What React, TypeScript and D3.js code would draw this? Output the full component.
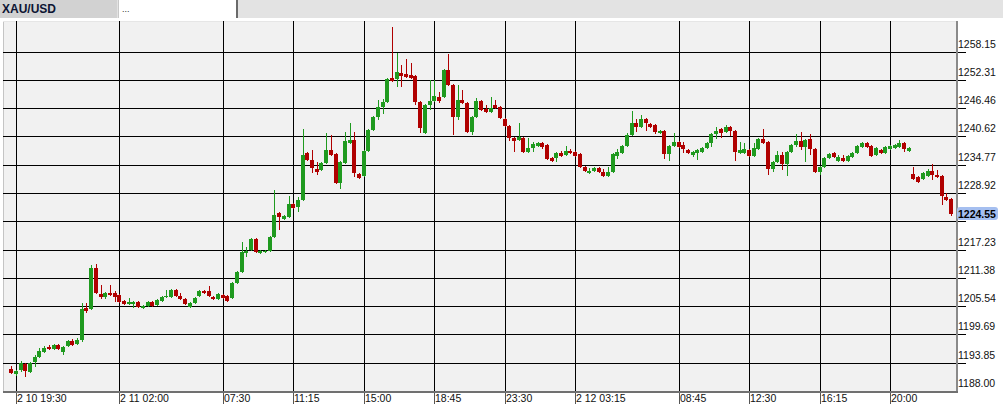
import React from 'react';
import * as d3 from 'd3';

// OHLC for each 15-minute candle (first candle is one bar before the "2 10 19:30" gridline)
const opens = [1192.54,1191.51,1192.33,1193.58,1191.92,1193.99,1195.02,1196.06,1197.09,1196.68,1197.5,1196.06,1197.3,1198.33,1197.71,1198.54,1205.16,1204.95,1213.42,1208.05,1207.43,1208.26,1208.26,1207.84,1206.6,1205.98,1205.98,1206.4,1205.16,1205.57,1206.4,1205.78,1206.6,1207.4,1207.43,1208.88,1207.64,1207.02,1205.37,1206.19,1207.64,1208.67,1208.67,1207.43,1207.02,1207.84,1207.64,1207.22,1210.32,1212.6,1216.53,1217.14,1219.42,1216.53,1216.73,1216.94,1219.83,1224.79,1223.55,1223.97,1226.65,1226.03,1227.48,1237.2,1235.75,1233.89,1233.68,1235.13,1237.81,1236.99,1231.0,1235.13,1239.26,1239.88,1232.85,1232.44,1237.61,1241.95,1244.63,1246.7,1247.74,1252.7,1252.49,1253.73,1253.52,1253.31,1253.11,1247.74,1241.33,1247.12,1247.94,1248.77,1248.77,1254.35,1251.25,1244.63,1248.15,1247.53,1241.54,1244.63,1247.94,1246.29,1245.67,1247.12,1246.7,1244.22,1242.78,1240.3,1239.88,1240.3,1237.4,1238.23,1238.64,1239.26,1238.85,1236.16,1236.16,1237.2,1236.78,1237.61,1237.4,1236.99,1234.3,1233.06,1233.47,1234.09,1233.27,1232.44,1233.27,1236.57,1237.2,1238.64,1240.92,1243.4,1242.57,1244.22,1243.19,1242.98,1241.33,1241.74,1236.99,1238.64,1239.47,1238.85,1237.81,1236.78,1237.2,1237.4,1238.23,1239.26,1241.12,1242.16,1241.54,1242.57,1241.74,1237.2,1237.2,1237.81,1236.57,1238.02,1240.09,1239.47,1233.89,1235.33,1236.78,1234.92,1237.4,1238.85,1239.67,1238.43,1240.09,1238.02,1233.27,1234.3,1236.16,1237.2,1235.54,1236.16,1235.54,1236.37,1237.2,1238.43,1239.26,1238.64,1236.78,1237.81,1237.2,1238.02,1238.23,1238.43,1239.26,1237.61,1232.85,1232.23,1231.82,1232.44,1233.47,1232.65,1232.44,1228.1,1227.69];
const highs = [1193.17,1192.33,1194.2,1193.78,1194.0,1195.44,1196.88,1197.3,1197.5,1197.8,1197.7,1197.3,1198.6,1198.7,1198.9,1206.19,1206.19,1214.04,1214.25,1209.91,1208.5,1209.91,1208.7,1208.0,1206.8,1207.2,1206.6,1206.6,1205.8,1206.6,1206.7,1207.0,1207.6,1208.88,1209.1,1209.1,1208.3,1207.2,1206.4,1207.4,1208.9,1208.9,1209.7,1207.6,1208.3,1208.0,1207.8,1210.5,1212.8,1218.8,1217.77,1219.6,1219.6,1217.2,1217.1,1220.0,1229.55,1225.0,1224.4,1228.31,1226.9,1228.1,1242.16,1237.4,1237.81,1235.33,1235.3,1241.33,1240.92,1237.2,1235.5,1241.54,1243.4,1241.54,1233.1,1237.8,1242.2,1244.8,1248.15,1248.4,1252.7,1263.24,1257.86,1255.38,1256.62,1255.8,1253.3,1248.0,1247.3,1252.28,1252.28,1249.8,1254.6,1257.66,1251.5,1251.25,1250.22,1247.7,1244.8,1248.56,1248.1,1247.1,1248.77,1248.15,1246.9,1244.4,1243.0,1240.5,1243.4,1240.5,1240.3,1239.4,1239.5,1239.5,1239.0,1236.4,1237.4,1237.6,1238.64,1238.0,1237.6,1237.2,1234.5,1234.1,1234.3,1234.3,1233.9,1234.3,1237.2,1238.0,1238.8,1241.3,1245.88,1244.22,1245.05,1244.4,1243.4,1243.2,1242.0,1242.0,1238.8,1241.33,1239.7,1239.5,1238.0,1237.6,1238.0,1238.4,1239.5,1241.3,1242.57,1242.4,1243.0,1242.8,1242.0,1239.47,1239.3,1238.0,1239.3,1240.3,1242.16,1239.7,1235.5,1237.61,1237.4,1237.6,1239.0,1241.12,1241.54,1240.1,1241.12,1238.2,1234.5,1236.4,1237.2,1237.4,1236.8,1236.8,1236.8,1237.4,1238.8,1239.5,1239.5,1238.8,1238.4,1238.0,1238.6,1238.8,1239.0,1239.88,1239.5,1238.4,1234.3,1232.4,1233.3,1233.9,1234.92,1233.7,1232.6,1228.93,1227.9];
const lows = [1191.51,1191.1,1191.9,1190.9,1191.7,1192.96,1194.8,1195.9,1196.5,1196.5,1196.4,1195.5,1197.1,1197.3,1197.5,1198.1,1204.1,1204.7,1208.0,1207.02,1207.0,1207.6,1206.4,1206.2,1205.8,1205.8,1205.16,1205.2,1205.0,1205.4,1205.4,1205.6,1206.4,1207.2,1207.2,1207.4,1206.8,1205.8,1205.2,1206.0,1207.4,1208.0,1207.4,1206.8,1206.8,1207.0,1206.4,1207.0,1210.1,1212.4,1215.7,1216.9,1216.5,1216.3,1216.5,1216.7,1219.6,1221.28,1223.3,1223.7,1225.6,1225.0,1227.2,1235.5,1233.06,1232.65,1233.5,1234.9,1236.6,1230.8,1229.76,1234.9,1239.1,1232.23,1231.8,1232.2,1237.4,1241.7,1244.0,1245.2,1247.5,1251.9,1250.84,1250.84,1252.7,1252.5,1247.12,1241.33,1241.1,1246.08,1247.7,1247.5,1248.5,1251.0,1240.92,1244.0,1247.3,1241.3,1240.92,1244.4,1245.9,1245.5,1245.4,1246.3,1244.2,1242.6,1239.67,1237.4,1239.7,1237.2,1237.2,1237.4,1238.4,1238.0,1235.7,1235.3,1235.33,1236.4,1236.6,1237.0,1236.4,1234.1,1233.3,1232.9,1233.3,1233.0,1232.2,1232.2,1233.0,1236.0,1237.0,1238.4,1240.7,1241.5,1242.4,1241.7,1242.4,1241.1,1241.1,1235.95,1235.54,1238.4,1238.2,1237.2,1237.0,1236.4,1235.75,1237.2,1238.0,1238.4,1240.1,1240.3,1241.3,1240.7,1235.54,1237.0,1237.0,1236.4,1236.4,1237.8,1239.0,1232.65,1233.3,1235.1,1233.68,1232.44,1237.2,1238.4,1237.81,1235.33,1236.78,1233.0,1232.65,1234.1,1236.0,1236.2,1235.3,1235.3,1235.33,1236.2,1237.0,1238.2,1238.2,1236.4,1236.6,1237.0,1237.0,1237.8,1238.0,1238.2,1237.4,1237.4,1231.6,1231.0,1231.6,1232.2,1231.61,1232.0,1226.45,1227.3,1224.2];
const closes = [1191.72,1192.13,1193.78,1192.13,1193.78,1195.02,1196.26,1196.88,1196.68,1197.5,1196.68,1197.09,1198.33,1197.5,1198.54,1204.95,1204.54,1213.42,1208.26,1207.43,1208.26,1207.84,1207.43,1206.4,1205.98,1206.4,1206.4,1205.37,1205.57,1206.4,1205.57,1206.81,1207.43,1207.6,1208.88,1207.64,1207.02,1205.98,1206.19,1207.22,1208.67,1208.26,1207.64,1207.02,1208.05,1207.22,1206.6,1210.32,1212.6,1216.73,1216.94,1219.42,1216.73,1216.94,1216.94,1219.83,1224.38,1223.97,1224.17,1226.65,1225.83,1227.48,1236.78,1235.75,1234.09,1233.27,1235.13,1237.81,1236.78,1231.0,1235.33,1239.67,1239.88,1233.06,1232.03,1237.61,1241.95,1244.63,1246.7,1247.74,1252.49,1252.08,1253.94,1253.11,1252.9,1252.7,1247.74,1242.36,1247.12,1247.94,1248.98,1247.94,1254.35,1251.25,1244.63,1248.15,1247.53,1241.54,1244.63,1247.94,1246.08,1245.67,1246.5,1246.5,1244.43,1242.78,1240.3,1239.67,1240.5,1237.4,1238.23,1239.06,1239.26,1238.43,1235.95,1235.54,1237.2,1236.57,1237.61,1237.2,1236.57,1234.3,1233.47,1233.47,1234.09,1233.27,1232.44,1233.27,1236.99,1237.4,1238.64,1240.92,1243.4,1242.57,1244.22,1243.4,1242.57,1241.54,1241.74,1236.99,1238.64,1239.47,1238.43,1238.02,1237.2,1237.4,1237.81,1238.23,1239.26,1241.12,1241.74,1241.33,1242.57,1241.74,1237.4,1237.81,1238.02,1236.57,1238.23,1240.09,1239.26,1233.89,1235.33,1236.78,1234.92,1237.4,1238.85,1239.67,1238.43,1239.88,1238.02,1233.27,1234.3,1236.16,1236.99,1236.37,1236.37,1235.54,1236.57,1237.2,1238.64,1239.26,1238.43,1236.57,1238.23,1237.2,1238.43,1238.64,1238.85,1239.26,1238.02,1238.23,1231.82,1231.2,1233.06,1233.47,1232.65,1232.23,1228.31,1227.48,1224.55];

// time-axis labels, placed at candle indices
const tickIndex = [1, 23, 45, 60, 75, 90, 105, 120, 142, 157, 172, 187];
const tickLabels = ['2 10 19:30', '2 11 02:00', '07:30', '11:15', '15:00', '18:45', '23:30', '2 12 03:15', '08:45', '12:30', '16:15', '20:00'];

// price-axis levels
const priceTicks = [1258.15, 1252.31, 1246.46, 1240.62, 1234.77, 1228.92, 1223.08, 1217.23, 1211.38, 1205.54, 1199.69, 1193.85, 1188.0];
const hiddenLabel = 1223.08;
const lastPrice = 1224.55;
const symbol = 'XAU/USD';

const W = 1003;
const H = 414;
const PL = 3, PR = 957, PT = 21, PB = 391;
const UP = '#1f9a1f';
const DOWN = '#b00000';
const FONT = "'Liberation Sans', Arial, sans-serif";

export default function App() {
  const x = d3.scaleLinear().domain([tickIndex[0], tickIndex[tickIndex.length - 1]]).range([16, 890]);
  const y = d3.scaleLinear().domain([1188, 1258.15]).range([PB, 51.7]);

  const candles = opens.map((o, i) => {
    const c = closes[i];
    const up = c >= o;
    const cx = x(i);
    const left = Math.round(cx - 2);
    const top = Math.round(y(Math.max(o, c)));
    const bot = Math.round(y(Math.min(o, c)));
    const col = up ? UP : DOWN;
    return (
      <g key={i}>
        <line x1={left + 2.5} x2={left + 2.5} y1={Math.round(y(highs[i]))} y2={Math.round(y(lows[i]))} stroke={col} strokeWidth={1} />
        <rect x={left} y={top} width={4} height={Math.max(1, bot - top)} fill={col} />
      </g>
    );
  });

  const yLast = y(lastPrice);

  return (
    <svg width={W} height={H} style={{ position: 'absolute', left: 0, top: 0, background: '#fff' }} shapeRendering="crispEdges">
      {/* top tab bar */}
      <rect x={0} y={0} width={W} height={18} fill="#e3e3e3" />
      <rect x={0} y={0} width={117} height={18} fill="#d2d2d2" />
      <text x={2} y={13} fontFamily={FONT} fontWeight="bold" fontSize={12} fill="#0d1533">{symbol}</text>
      <rect x={118} y={0} width={118} height={18} fill="#ffffff" />
      <line x1={118.5} x2={118.5} y1={0} y2={18} stroke="#c8c8c8" />
      <rect x={236} y={0} width={2} height={18} fill="#6a6a6a" />
      <text x={122} y={12} fontFamily={FONT} fontSize={9} fill="#333">...</text>

      {/* plot background */}
      <rect x={PL} y={PT} width={PR - PL} height={PB - PT} fill="#f1f1f1" />
      <line x1={PL + 0.5} x2={PL + 0.5} y1={PT} y2={PB} stroke="#c4c4c4" />
      <line x1={PL} x2={PR} y1={PT + 0.5} y2={PT + 0.5} stroke="#e6e6e6" />

      {/* horizontal grid + price ticks */}
      {priceTicks.filter(v => v > 1188.5).map(v => (
        <line key={'h' + v} x1={PL} x2={966} y1={Math.round(y(v)) + 0.5} y2={Math.round(y(v)) + 0.5} stroke="#000" />
      ))}
      {/* vertical grid */}
      {tickIndex.map((t, i) => (
        <line key={'v' + i} x1={Math.round(x(t)) + 0.5} x2={Math.round(x(t)) + 0.5} y1={PT} y2={PB} stroke="#000" />
      ))}

      {candles}

      {/* frame */}
      <rect x={PR - 1} y={PT} width={2} height={PB - PT + 2} fill="#8a8a8a" />
      <rect x={PL} y={PB} width={PR - PL + 1} height={2} fill="#707070" />

      {/* price labels */}
      {priceTicks.filter(v => v !== hiddenLabel).map(v => (
        <text key={'pl' + v} x={958} y={y(v) - 4} fontFamily={FONT} fontSize={10.5} fill="#111">{v.toFixed(2)}</text>
      ))}
      <rect x={957} y={Math.round(yLast) - 7} width={41} height={13} rx={3} fill="#a5bff0" shapeRendering="auto" />
      <text x={958} y={Math.round(yLast) + 4} fontFamily={FONT} fontSize={10.5} fontWeight="bold" fill="#000">{lastPrice.toFixed(2)}</text>

      {/* time labels */}
      {tickIndex.map((t, i) => (
        <g key={'t' + i}>
          <line x1={Math.round(x(t)) + 0.5} x2={Math.round(x(t)) + 0.5} y1={PB + 2} y2={PB + 13} stroke="#555" />
          <text x={Math.round(x(t)) + 1} y={PB + 11} fontFamily={FONT} fontSize={10.5} fill="#111">{tickLabels[i]}</text>
        </g>
      ))}
    </svg>
  );
}
